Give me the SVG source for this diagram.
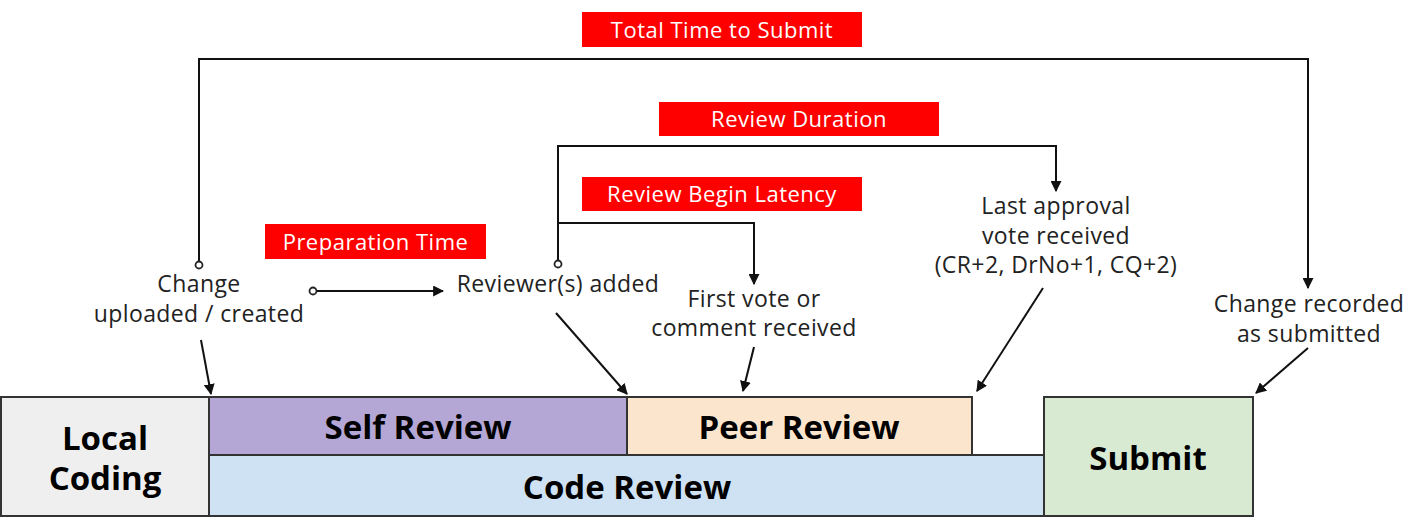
<svg xmlns="http://www.w3.org/2000/svg" width="1414" height="527" viewBox="0 0 1414 527">
<style>
.box{stroke:#333;stroke-width:2}
.big{font-family:"Open Sans","Noto Sans",sans-serif;font-weight:700;font-size:33px;fill:#000;text-anchor:middle}
.lbl{font-family:"Open Sans","Noto Sans",sans-serif;font-size:23px;letter-spacing:0.4px;fill:#222;text-anchor:middle}
.red{fill:#ff0000}
.rt{font-family:"Open Sans","Noto Sans",sans-serif;font-size:22px;letter-spacing:0.5px;fill:#fff;text-anchor:middle}
.ln{fill:none;stroke:#222;stroke-width:2}
.ar{fill:none;stroke:#111;stroke-width:2;marker-end:url(#ah)}
.dot{fill:#fff;stroke:#222;stroke-width:1.8}
</style>
<defs>
<marker id="ah" viewBox="0 0 10 10" refX="9" refY="5" markerWidth="5.5" markerHeight="5.5" orient="auto" markerUnits="strokeWidth">
<path d="M0,0 L10,5 L0,10 z" fill="#111"/>
</marker>
</defs>
<rect width="1414" height="527" fill="#fff"/>

<g id="connectors">
<path class="ar" d="M199,265 V59 H1308 V288"/>
<path class="ar" d="M558,264 V146 H1056 V191"/>
<path class="ar" d="M558,223 H754 V284"/>
<path class="ar" d="M313,291 H443"/>
<path class="ar" d="M201,340 L211,394"/>
<path class="ar" d="M556,313 L627,394"/>
<path class="ar" d="M754,347 L743,391"/>
<path class="ar" d="M1043,288 L977,391"/>
<path class="ar" d="M1308,348 L1256,393"/>
<circle class="dot" cx="199" cy="265" r="3.5"/>
<circle class="dot" cx="558" cy="264" r="3.5"/>
<circle class="dot" cx="313" cy="291" r="3.5"/>
</g>

<g id="label-total">
<rect class="red" x="582" y="12" width="280" height="35"/>
<text class="rt" x="722" y="38">Total Time to Submit</text>
</g>
<g id="label-review-duration">
<rect class="red" x="659" y="102" width="280" height="34"/>
<text class="rt" x="799" y="127">Review Duration</text>
</g>
<g id="label-review-begin">
<rect class="red" x="582" y="177" width="280" height="34"/>
<text class="rt" x="722" y="202">Review Begin Latency</text>
</g>
<g id="label-prep">
<rect class="red" x="265" y="224" width="221" height="35"/>
<text class="rt" x="375.5" y="250">Preparation Time</text>
</g>

<g id="event-change-uploaded">
<text class="lbl" x="199" y="292">Change</text>
<text class="lbl" x="199" y="322">uploaded / created</text>
</g>
<g id="event-reviewers-added">
<text class="lbl" x="558" y="292">Reviewer(s) added</text>
</g>
<g id="event-first-vote">
<text class="lbl" x="754" y="307">First vote or</text>
<text class="lbl" x="754" y="336">comment received</text>
</g>
<g id="event-last-approval">
<text class="lbl" x="1056" y="214">Last approval</text>
<text class="lbl" x="1056" y="244">vote received</text>
<text class="lbl" x="1056" y="273">(CR+2, DrNo+1, CQ+2)</text>
</g>
<g id="event-submitted">
<text class="lbl" x="1309" y="312">Change recorded</text>
<text class="lbl" x="1309" y="342">as submitted</text>
</g>

<g id="local-coding">
<rect class="box" x="1" y="397" width="208" height="119" fill="#efefef"/>
<text class="big" x="105" y="450">Local</text>
<text class="big" x="105" y="490">Coding</text>
</g>
<g id="code-review">
<rect class="box" x="209" y="455" width="835" height="61" fill="#cfe2f3"/>
<text class="big" x="627" y="499">Code Review</text>
</g>
<g id="self-review">
<rect class="box" x="209" y="397" width="418" height="58" fill="#b4a7d6"/>
<text class="big" x="418" y="439">Self Review</text>
</g>
<g id="peer-review">
<rect class="box" x="627" y="397" width="345" height="58" fill="#fce5cd"/>
<text class="big" x="799" y="439">Peer Review</text>
</g>
<g id="submit">
<rect class="box" x="1044" y="397" width="209" height="119" fill="#d9ead3"/>
<text class="big" x="1148" y="470">Submit</text>
</g>
</svg>
